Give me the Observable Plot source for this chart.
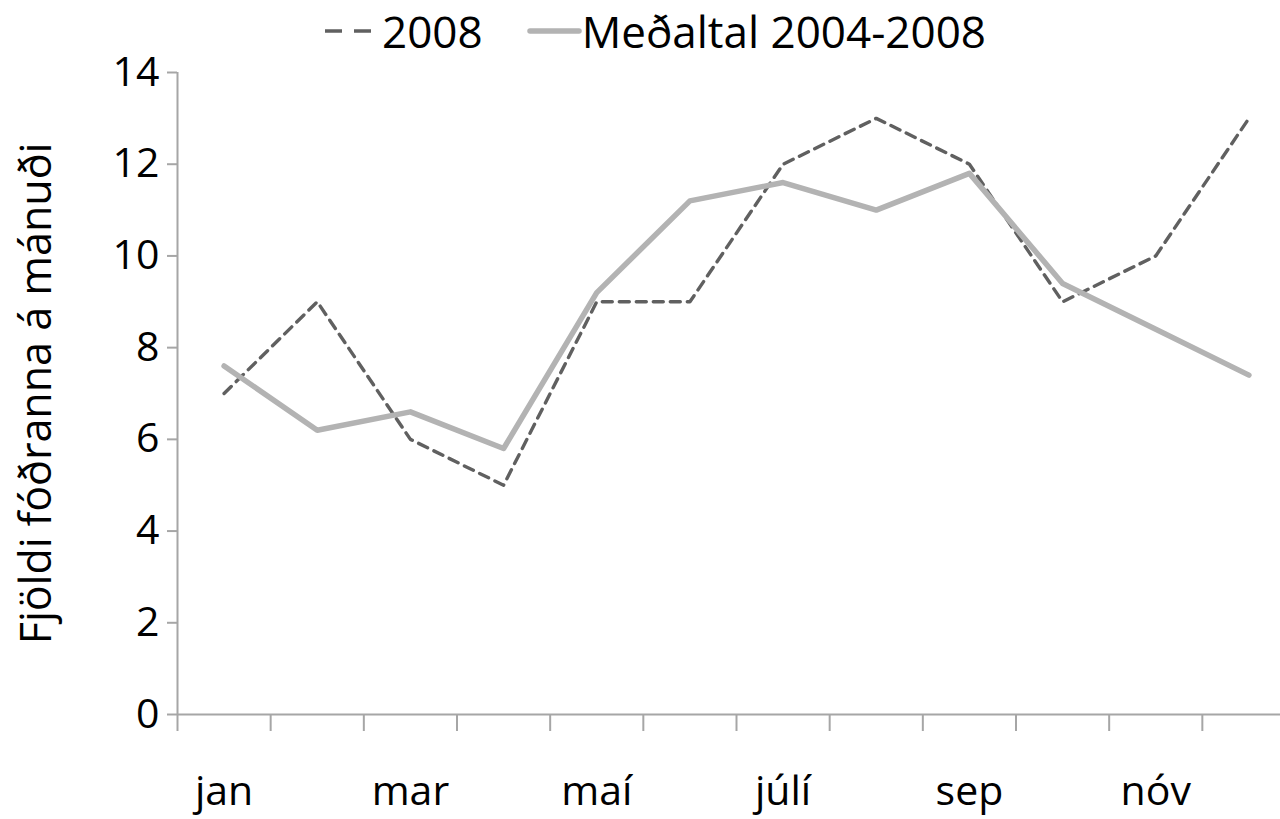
<!DOCTYPE html>
<html>
<head>
<meta charset="utf-8">
<script src="https://cdn.jsdelivr.net/npm/d3@7"></script>
<script src="https://cdn.jsdelivr.net/npm/@observablehq/plot@0.6"></script>
<style>
  html, body { margin: 0; padding: 0; background: #fff; }
  #wrap { position: relative; width: 1280px; height: 819px; overflow: hidden; font-family: "Open Sans", Lato, sans-serif; }
  #legend { position: absolute; top: 1px; left: 322px; display: flex; align-items: center; font-size: 44px; line-height: normal; color: #000; white-space: nowrap; }
  #legend .item { display: flex; align-items: center; }
  #legend svg { display: block; }
</style>
</head>
<body>
<div id="wrap">
  <div id="chart"></div>
  <div id="legend"></div>
</div>
<script>
const months = ["jan", "feb", "mar", "apr", "maí", "jún", "júlí", "ágú", "sep", "okt", "nóv", "des"];
const values2008 = [7, 9, 6, 5, 9, 9, 12, 13, 12, 9, 10, 13];
const valuesAvg = [7.6, 6.2, 6.6, 5.8, 9.2, 11.2, 11.6, 11.0, 11.8, 9.4, 8.4, 7.4];
const seriesNames = ["2008", "Meðaltal 2004-2008"];
const yTicks = [0, 2, 4, 6, 8, 10, 12, 14];
const labelledMonths = ["jan", "mar", "maí", "júlí", "sep", "nóv"];

const rows2008 = months.map((m, i) => ({i, month: m, value: values2008[i]}));
const rowsAvg = months.map((m, i) => ({i, month: m, value: valuesAvg[i]}));
const boundaries = d3.range(-0.5, months.length + 0.5, 1);
const labelIdx = labelledMonths.map(m => months.indexOf(m));

const axisColor = "#a6a6a6";
const fontFam = "'Open Sans', Lato, sans-serif";

const chart = Plot.plot({
  width: 1280,
  height: 819,
  marginTop: 72,
  marginBottom: 105,
  marginLeft: 177,
  marginRight: 0,
  style: {fontFamily: fontFam, background: "#fff", color: "#000"},
  x: {domain: [-0.5, 11.5], range: [177, 1295]},
  y: {domain: [0, 14]},
  marks: [
    Plot.axisY({ticks: yTicks, tickSize: 10, tickPadding: 8, fontSize: 41, stroke: axisColor, strokeWidth: 2, label: null}),
    Plot.axisY({ticks: [], tickSize: 0, fontSize: 43,
      label: "Fjöldi fóðranna á mánuði", labelAnchor: "center", labelArrow: "none", labelOffset: 157}),
    Plot.axisX({ticks: boundaries, tickSize: 17, tickFormat: () => "", stroke: axisColor, strokeWidth: 2, label: null}),
    Plot.axisX({ticks: labelIdx, tickSize: 0, tickPadding: 61, tickFormat: i => months[i], fontSize: 41, label: null}),
    Plot.ruleX([-0.5], {stroke: axisColor, strokeWidth: 2}),
    Plot.ruleY([0], {stroke: axisColor, strokeWidth: 2}),
    Plot.line(rows2008, {x: "i", y: "value", stroke: "#606060", strokeWidth: 3.4, strokeDasharray: "10,7", strokeLinejoin: "round"}),
    Plot.line(rowsAvg, {x: "i", y: "value", stroke: "#b3b3b3", strokeWidth: 5.5, strokeLinejoin: "round"})
  ]
});
document.getElementById("chart").appendChild(chart);

// legend
const legend = document.getElementById("legend");
const styles = [
  {stroke: "#606060", width: 3.6, dash: "17,12", cap: "butt", len: 52, gap: 8, after: 44},
  {stroke: "#b3b3b3", width: 5.5, dash: null, cap: "round", len: 55, gap: 0, after: 0}
];
seriesNames.forEach((name, k) => {
  const s = styles[k];
  const item = document.createElement("div");
  item.className = "item";
  item.style.marginRight = s.after + "px";
  const ns = "http://www.w3.org/2000/svg";
  const svg = document.createElementNS(ns, "svg");
  svg.setAttribute("width", s.len);
  svg.setAttribute("height", 20);
  const ln = document.createElementNS(ns, "line");
  ln.setAttribute("x1", 3); ln.setAttribute("x2", s.len - 3);
  ln.setAttribute("y1", 10); ln.setAttribute("y2", 10);
  ln.setAttribute("stroke", s.stroke);
  ln.setAttribute("stroke-width", s.width);
  ln.setAttribute("stroke-linecap", s.cap);
  if (s.dash) ln.setAttribute("stroke-dasharray", s.dash);
  svg.appendChild(ln);
  item.appendChild(svg);
  const t = document.createElement("span");
  t.textContent = name;
  t.style.marginLeft = s.gap + "px";
  item.appendChild(t);
  legend.appendChild(item);
});
</script>
</body>
</html>
